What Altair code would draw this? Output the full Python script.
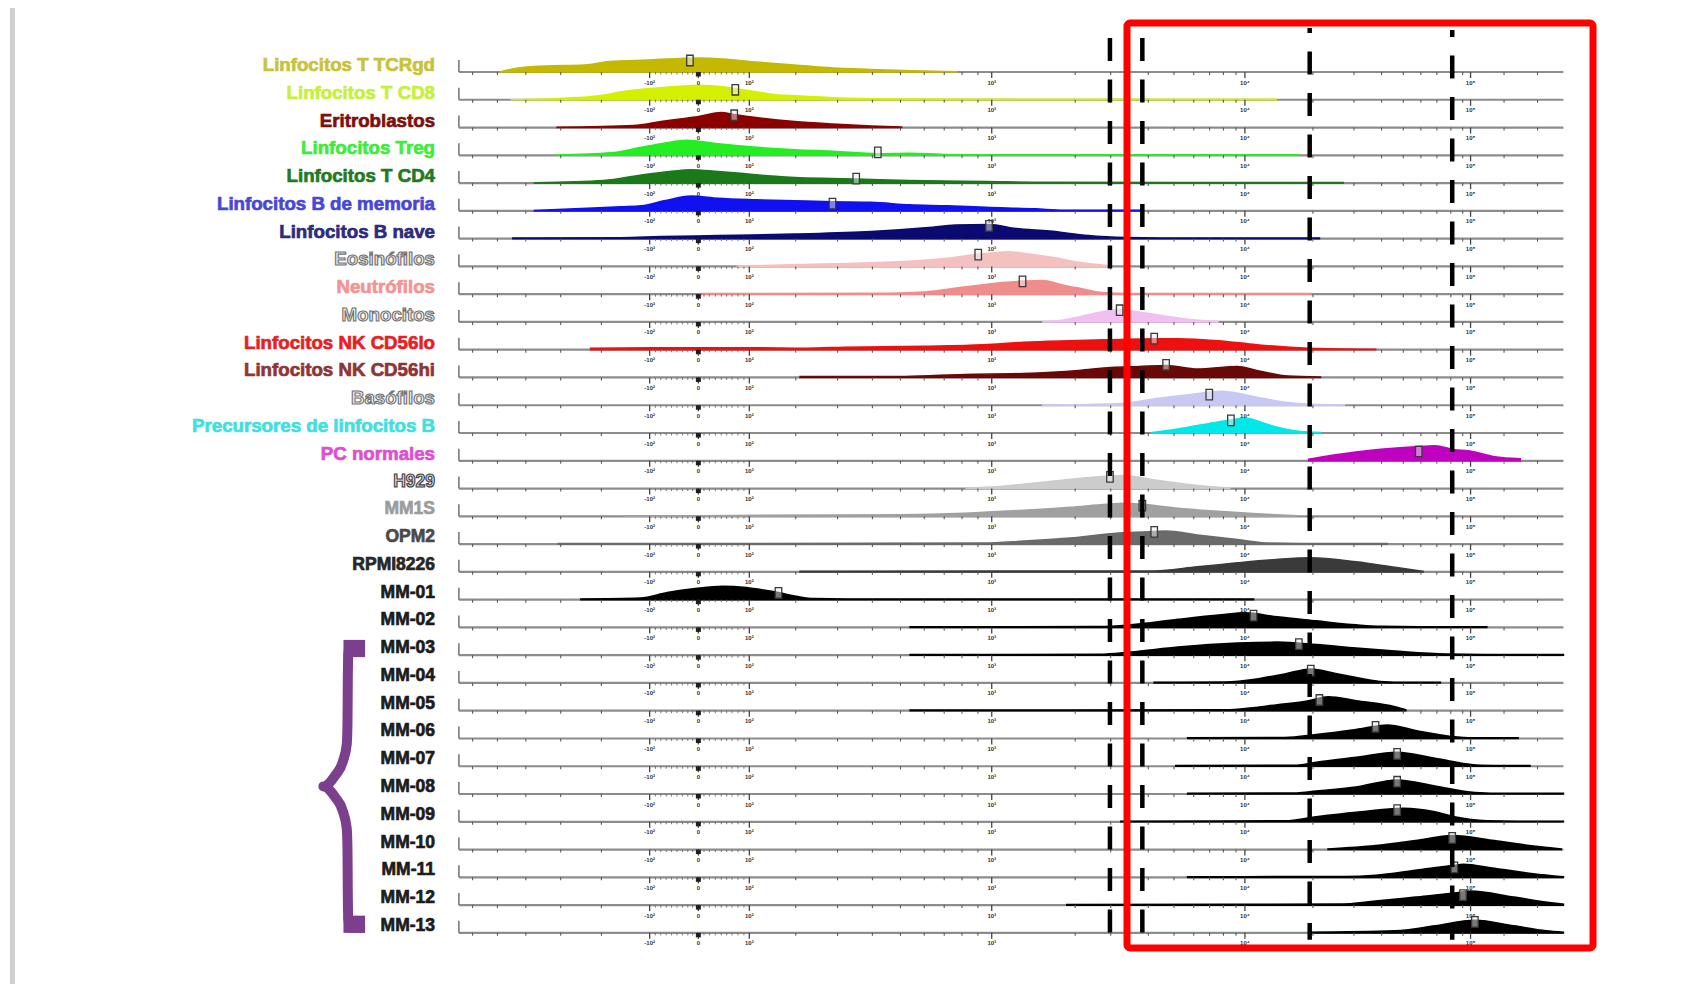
import altair as alt
import pandas as pd

# ---------------- data ----------------
names = [
    "Linfocitos T TCRgd", "Linfocitos T CD8", "Eritroblastos", "Linfocitos Treg",
    "Linfocitos T CD4", "Linfocitos B de memoria", "Linfocitos B nave", "Eosinófilos",
    "Neutrófilos", "Monocitos", "Linfocitos NK CD56lo", "Linfocitos NK CD56hi",
    "Basófilos", "Precursores de linfocitos B", "PC normales",
    "H929", "MM1S", "OPM2", "RPMI8226",
    "MM-01", "MM-02", "MM-03", "MM-04", "MM-05", "MM-06", "MM-07",
    "MM-08", "MM-09", "MM-10", "MM-11", "MM-12", "MM-13",
]

fill_colors = [
    "#c4b800", "#d2f000", "#8b0000", "#22ee22", "#1a7a1a", "#1010f0", "#0a0a70",
    "#f5c0c0", "#f08c8c", "#f0c0f0", "#ee1010", "#6a0808", "#c8c8f4", "#00e8e8",
    "#c000c0", "#cccccc", "#a0a0a0", "#6a6a6a", "#3a3a3a",
] + ["#000000"] * 13

label_colors = [
    "#c9c23c", "#c6f03a", "#7d0f0f", "#3aee3a", "#237a23", "#4747d8", "#2c2c7c",
    "#efe6e6", "#f59393", "#f3f3f3", "#e81e25", "#8e3535", "#f0f0f4", "#3ee0e0",
    "#dd4fd0", "#dcdcdc", "#9c9c9c", "#4a4a4a", "#262626",
] + ["#1c1c1c"] * 13

hollow_rows = ["Eosinófilos", "Monocitos", "Basófilos", "H929"]

# density profiles: (channel value, relative density)
d_tcrgd = [(38, 0), (55, 4), (80, 6), (116, 7), (140, 10.5), (175, 12), (205, 13.5), (222, 14),
           (250, 12.5), (275, 10), (311, 7), (346, 4), (382, 2.5), (420, 1.2), (461, 0.3)]
d_cd8 = [(48, 0), (98, 1.5), (130, 4), (151, 8), (175, 11), (204, 13.5), (222, 14.5), (245, 13),
         (256, 11), (275, 8), (293, 5), (320, 3.5), (346, 2), (382, 1), (420, 0.6), (757, 0.5)]
d_eritro = [(91, 0.3), (162, 2), (187, 6), (205, 8.5), (222, 11), (243, 15), (255, 13), (275, 10),
            (311, 6), (346, 3.5), (382, 1.5), (410, 0.4)]
d_treg = [(91, 0.3), (141, 2.5), (169, 8), (190, 12), (211, 15), (240, 11.5), (275, 8), (311, 5.5),
          (346, 4), (388, 1.5), (417, 2), (452, 0.8), (500, 0.5), (778, 0.5)]
d_cd4 = [(70, 0.3), (134, 2.5), (169, 8), (195, 11.5), (215, 13.3), (240, 11.5), (258, 10), (290, 7),
         (311, 5.5), (346, 4.5), (368, 4), (417, 2.5), (488, 1.5), (540, 0.8), (819, 0.5)]
d_bmem = [(70, 0.3), (119, 2.5), (150, 4), (169, 5), (190, 10), (215, 14.7), (240, 12.5), (275, 11),
          (311, 10), (346, 9), (382, 8.5), (417, 6), (452, 5), (488, 3.5), (534, 2), (560, 0.6), (633, 0.5)]
d_bnave = [(50, 0.5), (150, 0.8), (187, 2), (240, 3), (311, 4.5), (382, 7), (435, 11), (460, 13.5),
           (491, 14), (516, 10), (547, 7.5), (583, 3), (618, 1), (650, 0.5), (797, 0.5)]
d_eos = [(258, 0.3), (346, 2.5), (417, 5), (452, 8), (481, 12), (509, 14.5), (530, 12), (555, 8),
         (574, 4), (600, 0.8)]
d_neu = [(226, 0.5), (400, 0.8), (431, 2), (468, 7), (504, 11.5), (522, 13), (541, 13.7), (560, 9),
         (574, 6), (596, 1.5), (620, 0.5), (789, 0.5)]
d_mono = [(541, 0.4), (560, 2), (574, 5), (595, 10), (611, 12.3), (630, 10), (648, 7), (677, 2.5), (703, 0.4)]
d_nklo = [(122, 1.5), (200, 2), (277, 2), (321, 1.5), (358, 2.5), (431, 3.5), (486, 5), (523, 7.5),
          (566, 9), (604, 10), (644, 11), (666, 11), (703, 9), (739, 5), (787, 1.5), (820, 0.6), (849, 0.5)]
d_nkhi = [(316, 0.8), (413, 1), (468, 3), (523, 4), (574, 7), (604, 10), (630, 11), (655, 12),
          (684, 8.5), (721, 11), (739, 7), (768, 1.5), (798, 0.5)]
d_baso = [(541, 0.4), (611, 1.5), (648, 7), (680, 11), (706, 14), (739, 8), (765, 3), (790, 1), (820, 0.5)]
d_prec = [(642, 0.5), (666, 4), (695, 9.5), (715, 13), (728, 15), (745, 10), (757, 6), (779, 1.5), (798, 0.5)]
d_pc = [(787, 1.5), (812, 6), (849, 11), (886, 14), (904, 15), (922, 11), (935, 10), (959, 4), (983, 2)]
d_h929 = [(470, 0.4), (501, 2), (538, 6), (574, 10), (603, 12.5), (615, 13), (648, 8), (684, 3), (714, 0.5)]
d_mm1s = [(153, 0.5), (413, 1.5), (468, 3), (523, 6), (566, 9), (600, 12), (615, 13), (633, 12),
          (666, 8), (703, 5), (739, 2.5), (776, 0.5)]
d_opm2 = [(92, 0.5), (486, 1), (523, 3), (566, 6), (611, 11), (644, 12.5), (655, 13), (684, 9),
          (721, 4.5), (750, 1), (780, 0.5), (860, 0.5)]
d_rpmi = [(316, 0.6), (640, 0.8), (684, 5), (721, 9), (757, 12.3), (788, 14), (831, 10), (867, 4.5), (893, 0.5)]
d_mm01 = [(113, 0.6), (168, 1.5), (193, 7), (219, 11), (244, 13.3), (266, 12), (285, 9), (296, 7),
          (314, 3), (329, 1), (360, 0.6), (736, 0.6)]
d_mm02 = [(418, 0.6), (593, 0.8), (622, 2.5), (666, 8), (706, 12.5), (728, 14.5), (758, 10.5),
          (794, 6.5), (831, 2.5), (853, 1), (890, 0.6), (952, 0.6)]
d_mm03 = [(418, 0.6), (593, 0.8), (622, 3), (666, 8), (721, 12), (758, 13), (794, 10.5), (831, 7),
          (867, 4), (915, 1), (950, 0.6), (1023, 0.6)]
d_mm04 = [(644, 0.6), (710, 1), (739, 4), (765, 9), (789, 14), (812, 9.5), (831, 5.5), (853, 1.5),
          (880, 0.6), (909, 0.6)]
d_mm05 = [(418, 0.6), (710, 0.8), (721, 1.5), (758, 6), (787, 10), (805, 14), (831, 10), (867, 4), (877, 1)]
d_mm06 = [(675, 0.6), (765, 1), (794, 4), (831, 9), (860, 13.5), (886, 8), (919, 2), (940, 0.6), (981, 0.6)]
d_mm07 = [(664, 0.6), (776, 1), (794, 4), (831, 9), (869, 14), (904, 8), (946, 1), (970, 0.6), (992, 0.6)]
d_mm08 = [(675, 0.6), (776, 1), (794, 3), (831, 7), (869, 14), (904, 8), (941, 1.5), (970, 0.6), (1023, 0.6)]
d_mm09 = [(613, 0.6), (765, 1), (794, 5), (831, 9.5), (875, 13.5), (904, 10), (922, 5), (952, 1),
          (980, 0.6), (1023, 0.6)]
d_mm10 = [(805, 0.6), (849, 4), (886, 9), (920, 14), (959, 9), (995, 3.5), (1021, 0.5)]
d_mm11 = [(675, 0.6), (820, 0.8), (849, 2), (886, 7), (922, 12), (930, 13), (959, 9), (995, 3.5), (1023, 0.5)]
d_mm12 = [(563, 0.6), (816, 1), (849, 4), (886, 8), (922, 12), (937, 14), (977, 8), (1014, 2), (1023, 1)]
d_mm13 = [(787, 0.6), (867, 2), (904, 7), (941, 12.5), (977, 7), (1007, 2), (1023, 0.5)]

densities = [d_tcrgd, d_cd8, d_eritro, d_treg, d_cd4, d_bmem, d_bnave, d_eos, d_neu, d_mono,
             d_nklo, d_nkhi, d_baso, d_prec, d_pc, d_h929, d_mm1s, d_opm2, d_rpmi,
             d_mm01, d_mm02, d_mm03, d_mm04, d_mm05, d_mm06, d_mm07, d_mm08, d_mm09,
             d_mm10, d_mm11, d_mm12, d_mm13]

median_c = [214, 256, 255, 388, 368, 346, 491, 481, 522, 612, 644, 655, 695, 715, 889,
            603, 633, 644, None, 296, 736, 778, 789, 797, 849, 869, 869, 869, 920, 922, 930, 941]
median_h = [11.5, 10, 12.3, 3, 4.5, 7.3, 12.7, 11.7, 12.7, 11.7, 11, 12.7, 10.7, 12.7, 9.3,
            11.7, 10.7, 12.3, None, 6.7, 11.7, 11, 12.3, 10.7, 11.7, 12.3, 12.3, 11.7, 11.7, 10, 10, 11]

# axis (channel units)
axis_max = 1023
major_ticks = [176.7, 221.8, 269, 493.5, 728, 937]
major_labels = ["-10²", "0", "10²", "10³", "10⁴", "10⁵"]
minor_ticks = [12.7, 35.7, 62, 94.3, 132, 312, 350.7, 383, 409, 431, 449.5, 466, 480.7,
               570.8, 603.7, 638.5, 662.3, 680.6, 695.3, 708.1, 719.8,
               791, 829, 854.6, 874.7, 891, 905.8, 918.7, 929.7, 968, 999]
fine_ticks = [182, 187, 192, 197, 202, 207, 212, 216.5, 227, 232, 237.5, 243, 248, 253, 258.5, 264]

# gates (dashed lines) in channel units
gate_c = [603, 633, 788, 920]

# ---------------- layout helpers ----------------
ROW_PX = 27.77
W, H = 1677, 976
XS = alt.Scale(domain=[-417.6, 1135.6], nice=False, zero=False)
YS = alt.Scale(domain=[-64 / ROW_PX, (H - 64) / ROW_PX], reverse=True, nice=False, zero=False)
nrow = len(names)
FONT = "Liberation Sans"


def X(f):
    return alt.X(f, scale=XS, axis=None)


def Y(f):
    return alt.Y(f, scale=YS, axis=None)


rows_df = pd.DataFrame({"name": names, "row": list(range(nrow)),
                        "x0": 0, "x1": axis_max,
                        "ltop": [i - 12 / ROW_PX for i in range(nrow)],
                        "lc": label_colors})

layers = []

# card edge
layers.append(alt.Chart(pd.DataFrame({"c": [-413.5], "a": [-2.4], "b": [33.5]})).mark_rule(
    color="#d0d0d0", strokeWidth=5).encode(x=X("c:Q"), y=Y("a:Q"), y2="b:Q"))

# baselines
layers.append(alt.Chart(rows_df).mark_rule(color="#8c8c8c", strokeWidth=2.2).encode(
    x=X("x0:Q"), x2="x1:Q", y=Y("row:Q")))
# left "L" tick
layers.append(alt.Chart(rows_df).mark_rule(color="#7a7a7a", strokeWidth=1.6).encode(
    x=X("x0:Q"), y=Y("row:Q"), y2="ltop:Q"))

# densities
recs = []
for i, (nm, pts) in enumerate(zip(names, densities)):
    for c, h in pts:
        recs.append({"name": nm, "c": c, "base": i, "top": i - h / ROW_PX, "fill": fill_colors[i]})
area_df = pd.DataFrame(recs)
layers.append(alt.Chart(area_df).mark_area(interpolate="monotone", strokeWidth=1.6).encode(
    x=X("c:Q"), y=Y("base:Q"), y2="top:Q",
    color=alt.Color("fill:N", scale=None), stroke=alt.Stroke("fill:N", scale=None),
    detail="name:N"))


# ticks
def tick_df(vals, length):
    r = []
    for i in range(nrow):
        for v in vals:
            r.append({"c": v, "y": i, "y2": i + length / ROW_PX})
    return pd.DataFrame(r)


layers.append(alt.Chart(tick_df(minor_ticks, 3)).mark_rule(color="#5a5a5a", strokeWidth=1.1).encode(
    x=X("c:Q"), y=Y("y:Q"), y2="y2:Q"))
layers.append(alt.Chart(tick_df(fine_ticks, 2.5)).mark_rule(color="#6a6a6a", strokeWidth=0.9).encode(
    x=X("c:Q"), y=Y("y:Q"), y2="y2:Q"))
layers.append(alt.Chart(tick_df(major_ticks, 6)).mark_rule(color="#444444", strokeWidth=1.3).encode(
    x=X("c:Q"), y=Y("y:Q"), y2="y2:Q"))
layers.append(alt.Chart(tick_df([major_ticks[1]], 4.5)).mark_rule(color="#1e1e1e", strokeWidth=5).encode(
    x=X("c:Q"), y=Y("y:Q"), y2="y2:Q"))
tl = []
for i in range(nrow):
    for v, t in zip(major_ticks, major_labels):
        tl.append({"c": v, "y": i + 10.5 / ROW_PX, "t": t})
layers.append(alt.Chart(pd.DataFrame(tl)).mark_text(fontSize=6, color="#333333", font=FONT,
                                                   fontWeight="bold", baseline="middle").encode(
    x=X("c:Q"), y=Y("y:Q"), text="t:N"))

# median markers
md = pd.DataFrame([{"c": c, "y": i - h / ROW_PX} for i, (c, h) in enumerate(zip(median_c, median_h))
                   if c is not None])
layers.append(alt.Chart(md).mark_point(shape="M-0.62,-1H0.62V1H-0.62Z", size=110, filled=True,
                                       fill="#f0f0f0", fillOpacity=0.5, stroke="#3a3a3a",
                                       strokeWidth=1.3, opacity=1).encode(x=X("c:Q"), y=Y("y:Q")))

# dashed gate lines
dash_offsets = [0, 0, 18, 16]
dash_tops_px = [38, 38, 28, 30]
for c, off, tp in zip(gate_c, dash_offsets, dash_tops_px):
    gdf = pd.DataFrame({"c": [c], "a": [(tp - 72) / ROW_PX], "b": [31.25]})
    layers.append(alt.Chart(gdf).mark_rule(color="#000000", strokeWidth=4.5, strokeDash=[23, 18.5],
                                           strokeDashOffset=off).encode(x=X("c:Q"), y=Y("a:Q"), y2="b:Q"))

# highlight box
box = pd.DataFrame({"a": [618.8], "b": [1050.4], "t": [(23 - 72) / ROW_PX], "u": [(948 - 72) / ROW_PX]})
layers.append(alt.Chart(box).mark_rect(fillOpacity=0, stroke="#ff0000", strokeWidth=7, cornerRadius=3).encode(
    x=X("a:Q"), x2="b:Q", y=Y("t:Q"), y2="u:Q"))

# row labels
cells = rows_df.iloc[:15]
samples = rows_df.iloc[15:]
LX = -22.1


def lab(d, size, dy, hollow_stroke=None):
    d = d.assign(lx=LX)
    kw = dict(font=FONT, fontWeight="bold", fontSize=size, align="right", baseline="alphabetic", dy=dy)
    enc = dict(x=X("lx:Q"), y=Y("row:Q"), text="name:N", color=alt.Color("lc:N", scale=None))
    if hollow_stroke:
        kw.update(stroke=hollow_stroke, strokeWidth=1.1)
    else:
        kw.update(strokeWidth=0.7)
        enc["stroke"] = alt.Stroke("lc:N", scale=None)
    return alt.Chart(d).mark_text(**kw).encode(**enc)


layers.append(lab(cells[~cells["name"].isin(hollow_rows)], 18.7, -1))
layers.append(lab(cells[cells["name"].isin(hollow_rows)], 18.7, -1, "#707070"))
layers.append(lab(samples[~samples["name"].isin(hollow_rows)], 17.5, -2))
layers.append(lab(samples[samples["name"].isin(hollow_rows)], 17.5, -2, "#3c3c3c"))

# curly brace grouping MM-03 .. MM-13
r_top = names.index("MM-03") - 0.55
r_bot = float(names.index("MM-13"))
mid = (r_top + r_bot) / 2
tip, stem, cusp = -86.9, -102.4, -125.5
sw = 10 / ROW_PX
brace_pts = [
    (tip, r_top + sw / 2), (stem + 2, r_top + sw / 2), (stem, r_top + 0.5),
    (stem - 0.5, r_top + 1.5), (stem - 0.8, mid - 2.2), (stem - 1.5, mid - 1.5),
    (stem - 5, mid - 0.9), (stem - 12, mid - 0.4), (cusp, mid),
    (stem - 12, mid + 0.4), (stem - 5, mid + 0.9), (stem - 1.5, mid + 1.5),
    (stem - 0.8, mid + 2.2), (stem - 0.5, r_bot - 1.5), (stem, r_bot - 0.5),
    (stem + 2, r_bot - sw / 2), (tip, r_bot - sw / 2),
]
bdf = pd.DataFrame({"c": [p[0] for p in brace_pts], "r": [p[1] for p in brace_pts],
                    "o": list(range(len(brace_pts)))})
PURPLE = "#7b3f8e"
layers.append(alt.Chart(bdf).mark_line(color=PURPLE, strokeWidth=10, strokeJoin="round",
                                       interpolate="monotone").encode(
    x=X("c:Q"), y=Y("r:Q"), order="o:Q"))
blk = pd.DataFrame({"a": [stem - 4.5, stem - 4.5], "b": [tip, tip],
                    "t": [r_top, r_bot - 0.62], "u": [r_top + 0.62, r_bot]})
layers.append(alt.Chart(blk).mark_rect(color=PURPLE).encode(x=X("a:Q"), x2="b:Q", y=Y("t:Q"), y2="u:Q"))

chart = alt.layer(*layers).properties(
    width=W, height=H, padding=0, autosize=alt.AutoSizeParams(type="none"),
    background="white").configure_view(stroke=None)

chart.save("out.html", embed_options={"renderer": "svg", "actions": False})
